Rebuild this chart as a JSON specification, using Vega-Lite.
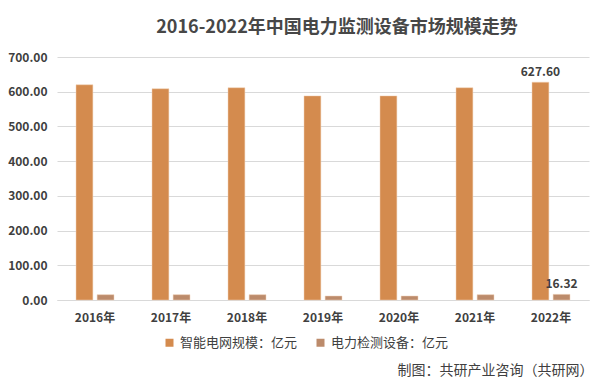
{
  "$schema": "https://vega.github.io/schema/vega-lite/v6.json",
  "width": 532,
  "height": 243,
  "autosize": {"type": "none"},
  "padding": {"left": 57, "top": 57, "right": 24, "bottom": 90},
  "background": "white",
  "title": {
    "text": "2016-2022年中国电力监测设备市场规模走势",
    "font": "Noto Sans CJK SC",
    "fontSize": 18,
    "fontWeight": "bold",
    "color": "#474747",
    "anchor": "middle",
    "dx": 14,
    "offset": 14
  },
  "config": {
    "view": {"stroke": null},
    "font": "Noto Sans CJK SC"
  },
  "data": {
    "values": [
      {"year": "2016年", "series": "智能电网规模：亿元", "value": 620.0},
      {"year": "2017年", "series": "智能电网规模：亿元", "value": 608.6},
      {"year": "2018年", "series": "智能电网规模：亿元", "value": 611.5},
      {"year": "2019年", "series": "智能电网规模：亿元", "value": 588.0},
      {"year": "2020年", "series": "智能电网规模：亿元", "value": 588.0},
      {"year": "2021年", "series": "智能电网规模：亿元", "value": 611.5},
      {"year": "2022年", "series": "智能电网规模：亿元", "value": 627.6},
      {"year": "2016年", "series": "电力检测设备：亿元", "value": 15.3},
      {"year": "2017年", "series": "电力检测设备：亿元", "value": 15.3},
      {"year": "2018年", "series": "电力检测设备：亿元", "value": 15.3},
      {"year": "2019年", "series": "电力检测设备：亿元", "value": 11.5},
      {"year": "2020年", "series": "电力检测设备：亿元", "value": 11.5},
      {"year": "2021年", "series": "电力检测设备：亿元", "value": 15.3},
      {"year": "2022年", "series": "电力检测设备：亿元", "value": 16.32}
    ]
  },
  "encoding": {
    "x": {
      "field": "year",
      "type": "nominal",
      "sort": null,
      "scale": {"paddingInner": 0.5, "paddingOuter": 0.25},
      "axis": {
        "title": "制图：共研产业咨询（共研网）",
        "titleFont": "Noto Sans CJK SC",
        "titleFontSize": 14,
        "titleFontWeight": "normal",
        "titleColor": "#404040",
        "titleAnchor": null,
        "titleAlign": "right",
        "titleBaseline": "middle",
        "titleX": 536,
        "titleY": 70,
        "labelAngle": 0,
        "labelFontSize": 12,
        "labelFontWeight": "bold",
        "labelColor": "#404040",
        "labelPadding": 12,
        "ticks": false,
        "domainColor": "#d9d9d9",
        "grid": false
      }
    },
    "xOffset": {
      "field": "series",
      "type": "nominal",
      "sort": null,
      "scale": {"paddingInner": 0.2}
    },
    "y": {
      "field": "value",
      "type": "quantitative",
      "scale": {"domain": [0, 700]},
      "axis": {
        "title": null,
        "values": [0, 100, 200, 300, 400, 500, 600, 700],
        "format": ".2f",
        "labelFontSize": 12,
        "labelFontWeight": "bold",
        "labelColor": "#404040",
        "labelPadding": 10,
        "domain": false,
        "ticks": false,
        "gridColor": "#d9d9d9"
      }
    }
  },
  "layer": [
    {
      "mark": {"type": "bar", "stroke": "#f3d3b8", "strokeWidth": 0.5},
      "encoding": {
        "color": {
          "field": "series",
          "type": "nominal",
          "sort": null,
          "scale": {"range": ["#D48B4E", "#BC8B6B"]},
          "legend": {
            "title": null,
            "orient": "none",
            "direction": "horizontal",
            "legendX": 106,
            "legendY": 279,
            "symbolType": "square",
            "symbolSize": 64,
            "symbolStrokeWidth": 0,
            "labelFontSize": 13,
            "labelColor": "#404040",
            "columnPadding": 16
          }
        }
      }
    },
    {
      "transform": [{"filter": "datum.year === '2022年'"}],
      "mark": {"type": "text", "dy": -10, "fontSize": 12, "fontWeight": "bold", "color": "#404040"},
      "encoding": {
        "text": {"field": "value", "type": "quantitative", "format": ".2f"}
      }
    }
  ]
}
